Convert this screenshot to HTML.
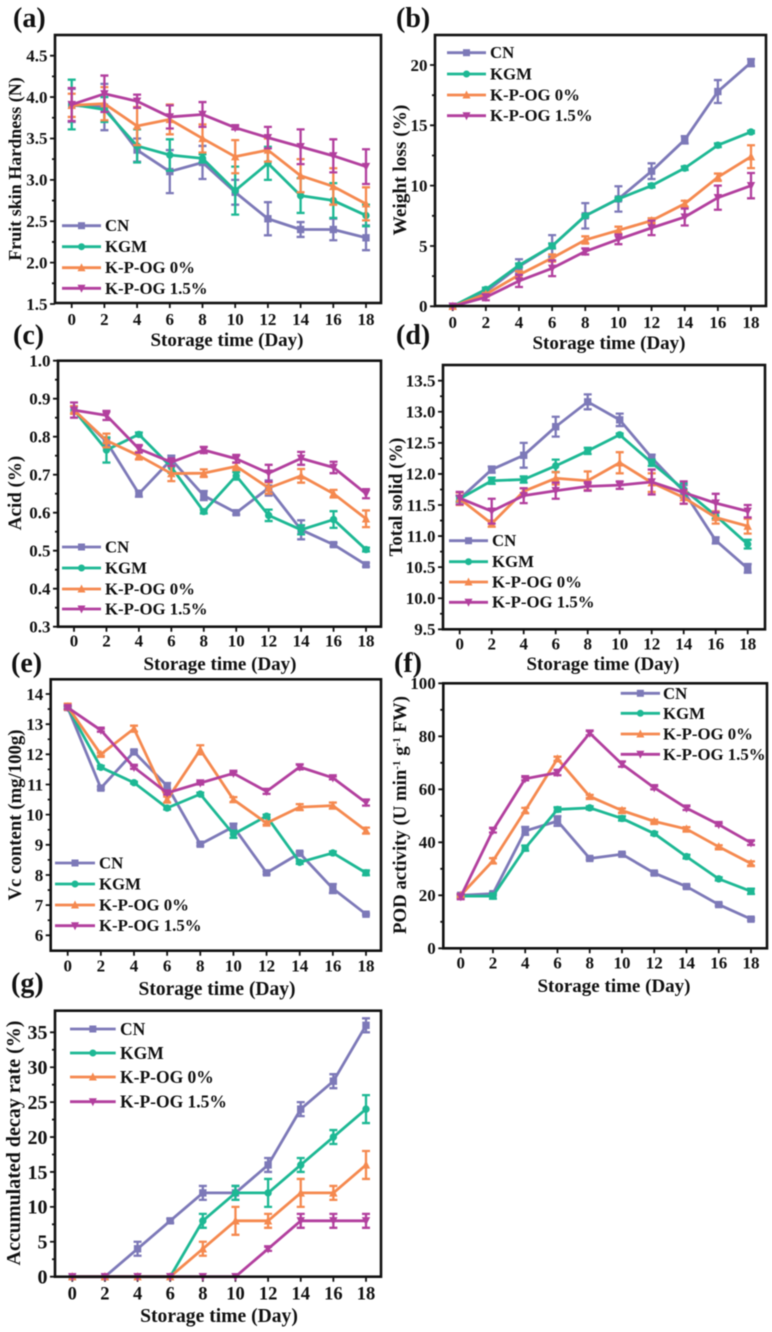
<!DOCTYPE html>
<html lang="en">
<head>
<meta charset="utf-8">
<title>Fruit quality charts</title>
<style>
html,body{margin:0;padding:0;background:#fff;width:772px;height:1332px;overflow:hidden}
svg{display:block;filter:blur(0.4px)}
text{font-family:"Liberation Serif",serif;font-weight:bold;fill:#111}
.pl{font-size:28px}
.xt{font-size:19px;text-anchor:middle}
.yt{font-size:18px;text-anchor:middle}
.lg{font-size:16.800px}
</style>
</head>
<body>
<svg id="fig" xmlns="http://www.w3.org/2000/svg" width="772" height="1332" viewBox="0 0 772 1332">
  <rect width="772" height="1332" fill="#fff"/>

  <g id="panel-a">
    <text class="pl" x="13" y="27">(a)</text>
    <text class="xt" x="227" y="346">Storage time (Day)</text>
    <text class="yt" transform="translate(21,169) rotate(-90)">Fruit skin Hardness (N)</text>
    <text class="lg" x="105" y="231">CN</text>
    <text class="lg" x="105" y="252">KGM</text>
    <text class="lg" x="105" y="273">K-P-OG 0%</text>
    <text class="lg" x="105" y="294">K-P-OG 1.5%</text>
  </g>

  <g id="panel-b">
    <text class="pl" x="396" y="27">(b)</text>
    <text class="xt" x="609" y="349">Storage time (Day)</text>
    <text class="yt" transform="translate(406,170) rotate(-90)" style="font-size:19.300px">Weight loss (%)</text>
    <text class="lg" x="490" y="58">CN</text>
    <text class="lg" x="490" y="79.500">KGM</text>
    <text class="lg" x="490" y="100.500">K-P-OG 0%</text>
    <text class="lg" x="490" y="121">K-P-OG 1.5%</text>
  </g>

  <g id="panel-c">
    <text class="pl" x="13" y="344">(c)</text>
    <text class="xt" x="220" y="670">Storage time (Day)</text>
    <text class="yt" transform="translate(21,493) rotate(-90)" style="font-size:19px">Acid (%)</text>
    <text class="lg" x="105" y="552.500">CN</text>
    <text class="lg" x="105" y="573.500">KGM</text>
    <text class="lg" x="105" y="594.500">K-P-OG 0%</text>
    <text class="lg" x="105" y="614.500">K-P-OG 1.5%</text>
  </g>

  <g id="panel-d">
    <text class="pl" x="396" y="344">(d)</text>
    <text class="xt" x="603" y="670">Storage time (Day)</text>
    <text class="yt" transform="translate(402,497) rotate(-90)" style="font-size:18.700px">Total solid (%)</text>
    <text class="lg" x="492" y="546">CN</text>
    <text class="lg" x="492" y="567">KGM</text>
    <text class="lg" x="492" y="587.500">K-P-OG 0%</text>
    <text class="lg" x="492" y="607.500">K-P-OG 1.5%</text>
  </g>

  <g id="panel-e">
    <text class="pl" x="11" y="672">(e)</text>
    <text class="xt" x="217" y="995" style="font-size:19.500px">Storage time (Day)</text>
    <text class="yt" transform="translate(21,815) rotate(-90)" style="font-size:18.800px">Vc content (mg/100g)</text>
    <text class="lg" x="99" y="868.500">CN</text>
    <text class="lg" x="99" y="889.500">KGM</text>
    <text class="lg" x="99" y="910.500">K-P-OG 0%</text>
    <text class="lg" x="99" y="931">K-P-OG 1.5%</text>
  </g>

  <g id="panel-f">
    <text class="pl" x="394" y="672">(f)</text>
    <text class="xt" x="614" y="992">Storage time (Day)</text>
    <text class="yt" transform="translate(406,815) rotate(-90)" style="font-size:18.800px">POD activity (U min<tspan dy="-6" font-size="11">-1</tspan><tspan dy="6"> g</tspan><tspan dy="-6" font-size="11">-1</tspan><tspan dy="6"> FW)</tspan></text>
    <text class="lg" x="663" y="699">CN</text>
    <text class="lg" x="663" y="719">KGM</text>
    <text class="lg" x="663" y="739.500">K-P-OG 0%</text>
    <text class="lg" x="663" y="760">K-P-OG 1.5%</text>
  </g>

  <g id="panel-g">
    <text class="pl" x="11" y="992">(g)</text>
    <text class="xt" x="219" y="1322" style="font-size:19.600px">Storage time (Day)</text>
    <text class="yt" transform="translate(20,1143) rotate(-90)" style="font-size:20px">Accumulated decay rate (%)</text>
    <text class="lg" x="120" y="1035" style="font-size:17.500px">CN</text>
    <text class="lg" x="120" y="1059" style="font-size:17.500px">KGM</text>
    <text class="lg" x="120" y="1083" style="font-size:17.500px">K-P-OG 0%</text>
    <text class="lg" x="120" y="1107.500" style="font-size:17.500px">K-P-OG 1.5%</text>
  </g>
</svg>

<script>
// ---------- shared categories ----------
const days = [0, 2, 4, 6, 8, 10, 12, 14, 16, 18];
const seriesKeys = ['cn', 'kgm', 'kpog0', 'kpog15'];
const seriesColors = ['#7d79b8', '#1db894', '#f5894f', '#b23f9e'];
const seriesShapes = ['square', 'circle', 'up', 'down'];

// ---------- panel a: hardness ----------
const aTicks = ['1.5', '2.0', '2.5', '3.0', '3.5', '4.0', '4.5'];
const aCN = [3.9, 3.88, 3.36, 3.1, 3.21, 2.85, 2.53, 2.4, 2.4, 2.3];
const aCNErr = [0.2, 0.28, 0.14, 0.26, 0.2, 0.15, 0.2, 0.09, 0.13, 0.15];
const aKGM = [3.91, 3.85, 3.41, 3.3, 3.26, 2.87, 3.2, 2.81, 2.75, 2.57];
const aKGMErr = [0.3, 0.15, 0.2, 0.19, 0.05, 0.29, 0.2, 0.21, 0.21, 0.13];
const aK0 = [3.9, 3.92, 3.65, 3.73, 3.5, 3.28, 3.36, 3.05, 2.92, 2.71];
const aK0Err = [0.14, 0.2, 0.23, 0.18, 0.17, 0.2, 0.14, 0.2, 0.22, 0.2];
const aK15 = [3.91, 4.04, 3.95, 3.76, 3.79, 3.63, 3.51, 3.4, 3.29, 3.16];
const aK15Err = [0.2, 0.22, 0.08, 0.14, 0.15, 0.02, 0.13, 0.21, 0.2, 0.21];

// ---------- panel b: weight loss ----------
const bTicks = ['0', '5', '10', '15', '20'];
const bCN = [0, 1.2, 3.3, 5, 7.5, 8.9, 11.2, 13.8, 17.8, 20.2];
const bCNErr = [0, 0.2, 0.6, 0.9, 1.05, 1.05, 0.65, 0.3, 0.95, 0.3];
const bKGM = [0, 1.4, 3.4, 5, 7.5, 8.9, 10, 11.45, 13.35, 14.45];
const bKGMErr = [0, 0.15, 0.15, 0.2, 0.1, 0.1, 0.15, 0.15, 0.15, 0.1];
const bK0 = [0, 1, 2.6, 4, 5.5, 6.3, 7.1, 8.5, 10.7, 12.4];
const bK0Err = [0, 0.1, 0.3, 0.3, 0.3, 0.3, 0.2, 0.25, 0.3, 0.95];
const bK15 = [0, 0.75, 2.1, 3.15, 4.55, 5.55, 6.5, 7.4, 9, 10];
const bK15Err = [0, 0.25, 0.5, 0.65, 0.25, 0.4, 0.6, 0.7, 1, 1.05];

// ---------- panel c: acid ----------
const cTicks = ['0.3', '0.4', '0.5', '0.6', '0.7', '0.8', '0.9', '1.0'];
const cCN = [0.87, 0.787, 0.65, 0.74, 0.645, 0.6, 0.665, 0.555, 0.516, 0.463];
const cCNErr = [0.01, 0.01, 0.008, 0.01, 0.012, 0.005, 0.02, 0.025, 0.005, 0.005];
const cKGM = [0.87, 0.765, 0.806, 0.72, 0.603, 0.697, 0.593, 0.555, 0.582, 0.503];
const cKGMErr = [0.01, 0.033, 0.005, 0.015, 0.005, 0.01, 0.015, 0.012, 0.022, 0.005];
const cK0 = [0.87, 0.79, 0.75, 0.703, 0.704, 0.722, 0.665, 0.697, 0.65, 0.584];
const cK0Err = [0.01, 0.018, 0.01, 0.02, 0.01, 0.01, 0.015, 0.018, 0.01, 0.022];
const cK15 = [0.87, 0.856, 0.768, 0.733, 0.765, 0.742, 0.704, 0.743, 0.719, 0.65];
const cK15Err = [0.02, 0.012, 0.01, 0.01, 0.008, 0.01, 0.022, 0.017, 0.015, 0.012];

// ---------- panel d: total solid ----------
const dTicks = ['9.5', '10.0', '10.5', '11.0', '11.5', '12.0', '12.5', '13.0', '13.5'];
const dCN = [11.6, 12.07, 12.3, 12.76, 13.16, 12.87, 12.26, 11.72, 10.93, 10.48];
const dCNErr = [0.05, 0.05, 0.2, 0.16, 0.12, 0.1, 0.05, 0.1, 0.05, 0.07];
const dKGM = [11.6, 11.89, 11.91, 12.13, 12.37, 12.63, 12.18, 11.75, 11.33, 10.87];
const dKGMErr = [0.05, 0.05, 0.05, 0.1, 0.05, 0.02, 0.05, 0.1, 0.05, 0.07];
const dK0 = [11.6, 11.2, 11.72, 11.93, 11.89, 12.18, 11.86, 11.62, 11.3, 11.16];
const dK0Err = [0.1, 0.05, 0.05, 0.1, 0.15, 0.17, 0.15, 0.1, 0.1, 0.12];
const dK15 = [11.61, 11.4, 11.65, 11.73, 11.8, 11.82, 11.87, 11.7, 11.53, 11.4];
const dK15Err = [0.1, 0.2, 0.12, 0.13, 0.07, 0.06, 0.2, 0.18, 0.15, 0.1];

// ---------- panel e: vc content ----------
const eTicks = ['6', '7', '8', '9', '10', '11', '12', '13', '14'];
const eCN = [13.55, 10.88, 12.08, 10.95, 9.02, 9.6, 8.07, 8.72, 7.55, 6.7];
const eCNErr = [0.05, 0.05, 0.05, 0.1, 0.05, 0.1, 0.05, 0.05, 0.15, 0.03];
const eKGM = [13.55, 11.57, 11.06, 10.22, 10.68, 9.35, 9.95, 8.42, 8.73, 8.07];
const eKGMErr = [0.05, 0.05, 0.03, 0.05, 0.05, 0.12, 0.05, 0.05, 0.05, 0.08];
const eK0 = [13.58, 12, 12.85, 10.5, 12.15, 10.5, 9.72, 10.25, 10.3, 9.47];
const eK0Err = [0.1, 0.05, 0.1, 0.1, 0.15, 0.08, 0.05, 0.1, 0.1, 0.1];
const eK15 = [13.55, 12.8, 11.57, 10.72, 11.05, 11.37, 10.77, 11.58, 11.22, 10.4];
const eK15Err = [0.05, 0.05, 0.05, 0.05, 0.05, 0.05, 0.08, 0.08, 0.05, 0.1];

// ---------- panel f: POD activity ----------
const fTicks = ['0', '20', '40', '60', '80', '100'];
const fCN = [20, 20.6, 44.3, 48, 33.9, 35.5, 28.4, 23.3, 16.5, 11];
const fCNErr = [0.3, 0.5, 1.5, 1.8, 0.5, 0.5, 0.5, 0.5, 0.5, 0.5];
const fKGM = [19.7, 19.7, 37.8, 52.4, 53, 49, 43.3, 34.6, 26.2, 21.5];
const fKGMErr = [0.5, 1, 1, 0.8, 0.6, 0.8, 0.6, 0.7, 0.6, 1];
const fK0 = [20, 33, 52, 71.5, 57.3, 52, 47.9, 45, 38.3, 32];
const fK0Err = [0.5, 1, 1, 0.8, 0.6, 0.8, 0.6, 0.7, 0.6, 0.8];
const fK15 = [19.5, 44.5, 64, 66.3, 81.2, 69.5, 60.6, 52.9, 46.7, 39.8];
const fK15Err = [1, 0.8, 0.6, 1, 0.8, 1, 0.6, 0.7, 0.5, 0.8];

// ---------- panel g: decay rate ----------
const gTicks = ['0', '5', '10', '15', '20', '25', '30', '35'];
const gCN = [0, 0, 4, 8, 12, 12, 16, 24, 28, 36];
const gCNErr = [0, 0, 1, 0.3, 1, 1, 1, 1, 1, 1];
const gKGM = [0, 0, 0, 0, 8, 12, 12, 16, 20, 24];
const gKGMErr = [0, 0, 0, 0, 1, 1, 2, 1, 1, 2];
const gK0 = [0, 0, 0, 0, 4, 8, 8, 12, 12, 16];
const gK0Err = [0, 0, 0, 0, 1, 2, 1, 2, 1, 2];
const gK15 = [0, 0, 0, 0, 0, 0, 4, 8, 8, 8];
const gK15Err = [0, 0, 0, 0, 0, 0, 0.3, 1, 1, 1];

// ---------- layout of each panel (frame, axis calibration, legend geometry) ----------
const panels = [
  {id:'a', frame:[55,35,381,303], xPx:[71.7,366], yPx:[304,55.7], tickVals:[1.5,4.5], ticks:aTicks, xOff:22, yFont:17, xFont:17,
   legend:{x0:62,x1:101,rows:[225.7,246.7,267.7,288.3]},
   vals:[aCN,aKGM,aK0,aK15], errs:[aCNErr,aKGMErr,aK0Err,aK15Err]},
  {id:'b', frame:[435,35,766,306], xPx:[452.7,751], yPx:[306.3,65], tickVals:[0,20], ticks:bTicks, xOff:22, yFont:17, xFont:17,
   legend:{x0:447,x1:486,rows:[52.7,74,95,115.7]},
   vals:[bCN,bKGM,bK0,bK15], errs:[bCNErr,bKGMErr,bK0Err,bK15Err]},
  {id:'c', frame:[58,360.7,381,626.7], xPx:[74,366], yPx:[626.7,360.7], tickVals:[0.3,1.0], ticks:cTicks, xOff:20, yFont:17, xFont:17,
   legend:{x0:62,x1:101,rows:[547,568,589,609]},
   vals:[cCN,cKGM,cK0,cK15], errs:[cCNErr,cKGMErr,cK0Err,cK15Err]},
  {id:'d', frame:[443,365,765,629.3], xPx:[459.7,747.7], yPx:[629.3,380.7], tickVals:[9.5,13.5], ticks:dTicks, xOff:20, yFont:17, xFont:17,
   legend:{x0:449,x1:488,rows:[540.7,561.7,582,602.3]},
   vals:[dCN,dKGM,dK0,dK15], errs:[dCNErr,dKGMErr,dK0Err,dK15Err]},
  {id:'e', frame:[50.7,679.3,381,950.7], xPx:[67.7,366], yPx:[935.3,694], tickVals:[6,14], ticks:eTicks, xOff:21, yFont:17, xFont:17,
   legend:{x0:55,x1:95,rows:[863,884,905,925.7]},
   vals:[eCN,eKGM,eK0,eK15], errs:[eCNErr,eKGMErr,eK0Err,eK15Err]},
  {id:'f', frame:[443.3,683.3,767,948.3], xPx:[460.7,751], yPx:[948.3,683.3], tickVals:[0,100], ticks:fTicks, xOff:20, yFont:17, xFont:17,
   legend:{x0:620.7,x1:660,rows:[693.3,713.3,734,754.3]},
   vals:[fCN,fKGM,fK0,fK15], errs:[fCNErr,fKGMErr,fK0Err,fK15Err]},
  {id:'g', frame:[55,1010.7,381,1276.7], xPx:[72.3,366], yPx:[1276.7,1032.3], tickVals:[0,35], ticks:gTicks, xOff:23, yFont:20, xFont:18.5,
   legend:{x0:70,x1:115.7,rows:[1029,1053,1077,1101.7]},
   vals:[gCN,gKGM,gK0,gK15], errs:[gCNErr,gKGMErr,gK0Err,gK15Err]}
];

const NS = 'http://www.w3.org/2000/svg';
function add(tag, parent) {
  const n = document.createElementNS(NS, tag);
  parent.appendChild(n);
  return n;
}
function linear(d0, d1, r0, r1) {
  return function (v) { return r0 + (v - d0) * (r1 - r0) / (d1 - d0); };
}
function markerPath(shape, x, y, r) {
  if (shape === 'square') return 'M' + (x - r) + ' ' + (y - r) + 'h' + (2 * r) + 'v' + (2 * r) + 'h' + (-2 * r) + 'Z';
  if (shape === 'circle') return 'M' + (x - r) + ' ' + y + 'a' + r + ' ' + r + ' 0 1 0 ' + (2 * r) + ' 0a' + r + ' ' + r + ' 0 1 0 ' + (-2 * r) + ' 0Z';
  if (shape === 'up') return 'M' + x + ' ' + (y - r - 1) + 'L' + (x + r + 0.5) + ' ' + (y + r) + 'L' + (x - r - 0.5) + ' ' + (y + r) + 'Z';
  return 'M' + x + ' ' + (y + r + 1) + 'L' + (x + r + 0.5) + ' ' + (y - r) + 'L' + (x - r - 0.5) + ' ' + (y - r) + 'Z';
}

panels.forEach(function (p) {
  const root = document.getElementById('panel-' + p.id);
  const L = p.frame[0], T = p.frame[1], R = p.frame[2], B = p.frame[3];
  const xScale = linear(days[0], days[days.length - 1], p.xPx[0], p.xPx[1]);
  const yScale = linear(p.tickVals[0], p.tickVals[1], p.yPx[0], p.yPx[1]);
  const step = (p.tickVals[1] - p.tickVals[0]) / (p.ticks.length - 1);

  // axis ticks and labels
  const axis = add('g', root);
  
  
  let tickPath = '';
  days.forEach(function (d) {
    const x = xScale(d);
    tickPath += 'M' + x + ' ' + B + 'v5';
    const t = add('text', axis);
    
    
    t.setAttribute('x', x);
    t.setAttribute('y', B + p.xOff);
    t.setAttribute('text-anchor', 'middle');
    t.setAttribute('font-size', p.xFont);
    t.textContent = d;
  });
  p.ticks.forEach(function (label, i) {
    const val = p.tickVals[0] + i * step;
    const y = yScale(val);
    tickPath += 'M' + L + ' ' + y + 'h-5';
    if (i < p.ticks.length - 1) tickPath += 'M' + L + ' ' + yScale(val + step / 2) + 'h-3';
    const t = add('text', axis);
    
    
    t.setAttribute('x', L - 7.5);
    t.setAttribute('y', y + p.yFont * 0.34);
    t.setAttribute('text-anchor', 'end');
    t.setAttribute('font-size', p.yFont);
    t.textContent = label;
  });
  const ticks = add('path', axis);
  
  
  ticks.setAttribute('d', tickPath);
  ticks.setAttribute('stroke', '#111');
  ticks.setAttribute('stroke-width', '1.8');
  ticks.setAttribute('fill', 'none');

  // series
  seriesKeys.forEach(function (key, s) {
    const g = add('g', root);
    
    
    const color = seriesColors[s];
    const vals = p.vals[s];
    const errs = p.errs[s];
    const line = add('polyline', g);
    
    
    line.setAttribute('points', vals.map(function (v, i) { return xScale(days[i]) + ',' + yScale(v); }).join(' '));
    line.setAttribute('fill', 'none');
    line.setAttribute('stroke', color);
    line.setAttribute('stroke-width', '2.8');
    line.setAttribute('stroke-linejoin', 'round');
    vals.forEach(function (v, i) {
      const x = xScale(days[i]);
      const y = yScale(v);
      if (errs[i] > 0) {
        const hi = yScale(v + errs[i]);
        const lo = yScale(v - errs[i]);
        const bar = add('path', g);
        
        
        bar.setAttribute('d', 'M' + x + ' ' + hi + 'V' + lo + 'M' + (x - 4) + ' ' + hi + 'h8M' + (x - 4) + ' ' + lo + 'h8');
        bar.setAttribute('stroke', color);
        bar.setAttribute('stroke-width', '2.3');
        bar.setAttribute('fill', 'none');
      }
      const mark = add('path', g);
      
      
      mark.setAttribute('d', markerPath(seriesShapes[s], x, y, 3.7));
      mark.setAttribute('fill', color);
    });

    // legend swatch
    const sw = add('g', root);
    
    
    const ly = p.legend.rows[s];
    const sl = add('path', sw);
    sl.setAttribute('d', 'M' + p.legend.x0 + ' ' + ly + 'H' + p.legend.x1);
    sl.setAttribute('stroke', color);
    sl.setAttribute('stroke-width', '2.8');
    const sm = add('path', sw);
    sm.setAttribute('d', markerPath(seriesShapes[s], (p.legend.x0 + p.legend.x1) / 2, ly, 3.5));
    sm.setAttribute('fill', color);
  });

  // frame on top
  const frame = add('rect', root);
  
  
  frame.setAttribute('x', L);
  frame.setAttribute('y', T);
  frame.setAttribute('width', R - L);
  frame.setAttribute('height', B - T);
  frame.setAttribute('fill', 'none');
  frame.setAttribute('stroke', '#111');
  frame.setAttribute('stroke-width', '2.6');
});
</script>
</body>
</html>
